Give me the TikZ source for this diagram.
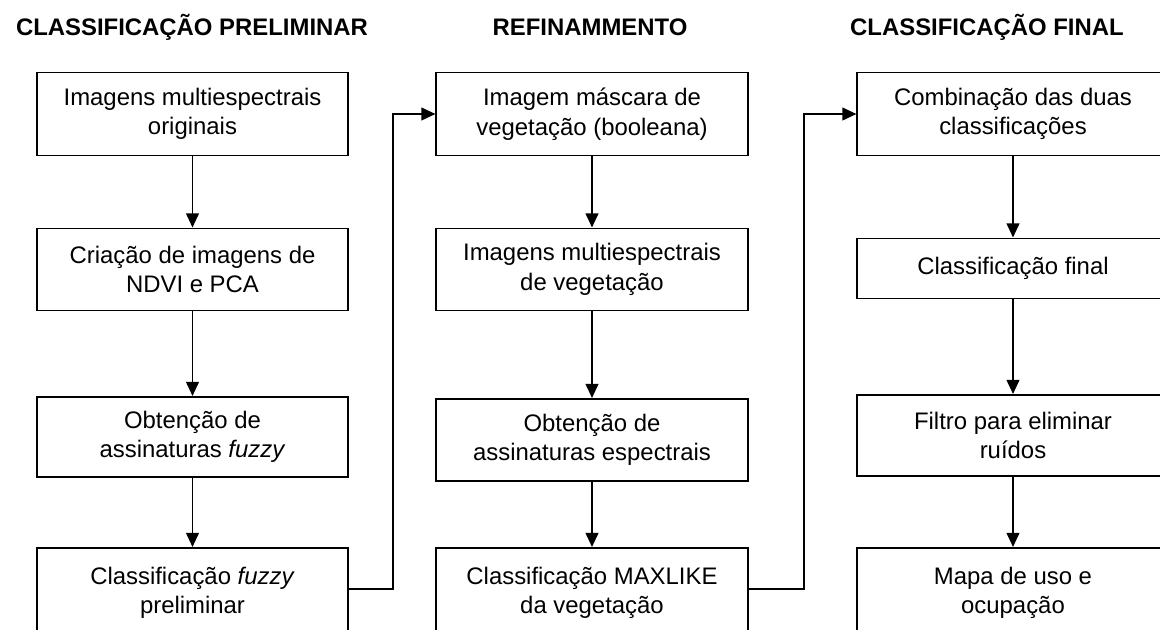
\documentclass[tikz,border=0pt]{standalone}
\usepackage{fontspec}
\setmainfont{Liberation Sans}
\usetikzlibrary{arrows.meta,positioning}

\begin{document}
\begin{tikzpicture}[
    x=0.025cm, y=-0.025cm,
    headnode/.style={font=\fontsize{17}{20}\selectfont\bfseries},
    boxnode/.style={draw, line width=1.4pt, fill=white, align=center,
        font=\fontsize{17}{21}\selectfont, minimum width=7.775cm, inner sep=2pt},
    arrowline/.style={line width=1.4pt, -{Triangle[length=10pt, width=9pt]}}
]
\useasboundingbox (0,0) rectangle (1160,630);

% Column titles
\node[headnode] (tprel) at (192,27) {CLASSIFICAÇÃO PRELIMINAR};
\node[headnode] (tref)  at (590,27) {REFINAMMENTO};
\node[headnode] (tfin)  at (987,27) {CLASSIFICAÇÃO FINAL};

% Classificacao preliminar
\node[boxnode, minimum height=2.075cm] (p1) at (192.5,114) {Imagens multiespectrais\\originais};
\node[boxnode, minimum height=2.05cm]  (p2) at (192.5,269.5) {Criação de imagens de\\NDVI e PCA};
\node[boxnode, minimum height=2.0cm]   (p3) at (192.5,437) {Obtenção de\\assinaturas \textit{fuzzy}};
\node[boxnode, minimum height=2.25cm]  (p4) at (192.5,593) {Classificação \textit{fuzzy}\\preliminar};

% Refinamento
\node[boxnode, minimum height=2.075cm] (r1) at (592,114) {Imagem máscara de\\vegetação (booleana)};
\node[boxnode, minimum height=2.05cm]  (r2) at (592,269.5) {Imagens multiespectrais\\de vegetação};
\node[boxnode, minimum height=2.05cm]  (r3) at (592,440) {Obtenção de\\assinaturas espectrais};
\node[boxnode, minimum height=2.25cm]  (r4) at (592,593) {Classificação MAXLIKE\\da vegetação};

% Classificacao final
\node[boxnode, minimum height=2.075cm] (f1) at (1013,114) {Combinação das duas\\classificações};
\node[boxnode, minimum height=1.5cm]   (f2) at (1013,268.5) {Classificação final};
\node[boxnode, minimum height=2.025cm] (f3) at (1013,435.5) {Filtro para eliminar\\ruídos};
\node[boxnode, minimum height=2.25cm]  (f4) at (1013,593) {Mapa de uso e\\ocupação};

% Vertical flow
\draw[arrowline] (p1) -- (p2);
\draw[arrowline] (p2) -- (p3);
\draw[arrowline] (p3) -- (p4);
\draw[arrowline] (r1) -- (r2);
\draw[arrowline] (r2) -- (r3);
\draw[arrowline] (r3) -- (r4);
\draw[arrowline] (f1) -- (f2);
\draw[arrowline] (f2) -- (f3);
\draw[arrowline] (f3) -- (f4);

% Links between columns
\draw[arrowline] ([yshift=0.1cm]p4.east) -- ++(44,0) |- (r1.west);
\draw[arrowline] ([yshift=0.1cm]r4.east) -- ++(55,0) |- (f1.west);

\end{tikzpicture}
\end{document}
